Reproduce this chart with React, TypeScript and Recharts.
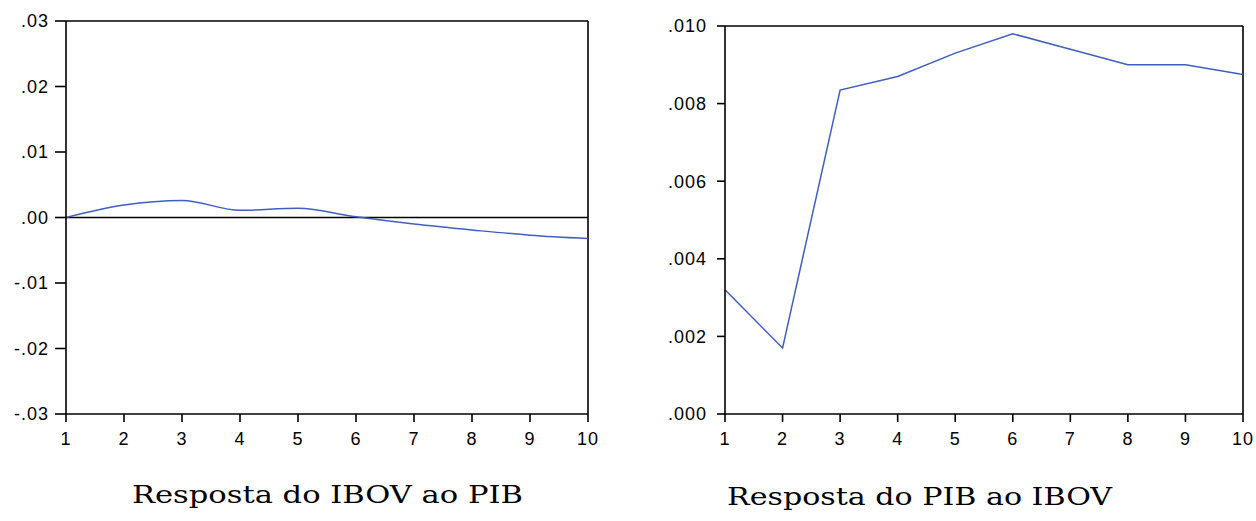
import { LineChart, Line, XAxis, YAxis, ReferenceLine } from "recharts";

const periods = [1, 2, 3, 4, 5, 6, 7, 8, 9, 10];
const ibovToPib = [0, 0.0019, 0.0026, 0.0011, 0.0014, 0.0001, -0.001, -0.0019, -0.0027, -0.0032];
const pibToIbov = [0.0032, 0.0017, 0.00835, 0.0087, 0.0093, 0.0098, 0.0094, 0.009, 0.009, 0.00875];

const leftTicks = [-0.03, -0.02, -0.01, 0, 0.01, 0.02, 0.03];
const rightTicks = [0, 0.002, 0.004, 0.006, 0.008, 0.01];

const leftTitle = "Resposta do IBOV ao PIB";
const rightTitle = "Resposta do PIB ao IBOV";

const leftData = periods.map((p, i) => ({ p, v: ibovToPib[i] }));
const rightData = periods.map((p, i) => ({ p, v: pibToIbov[i] }));

const LINE = "#3f5fbf";
const tickFont = {
  fontSize: 18,
  fill: "#000",
  fontFamily: "'Liberation Sans', Arial, sans-serif",
  letterSpacing: 1,
};
const axisLine = { stroke: "#000", strokeWidth: 1.6 };
const titleStyle = { fontFamily: "'DejaVu Serif', serif", fontSize: 24 };

// eviews style: drop the leading zero
const fmt = (digits: number) => (v: number) => v.toFixed(digits).replace("0.", ".");

export default function App() {
  return (
    <div style={{ position: "absolute", left: 0, top: 0, width: 1256, height: 521, background: "#fff" }}>
      <div style={{ position: "absolute", left: 0, top: 0 }}>
        <LineChart width={620} height={521} data={leftData} margin={{ top: 21, right: 32, left: 0, bottom: 77 }}>
          <XAxis
            dataKey="p"
            type="number"
            domain={[1, 10]}
            ticks={periods}
            height={30}
            tick={tickFont}
            tickSize={8}
            tickMargin={10}
            axisLine={axisLine}
            tickLine={axisLine}
          />
          <YAxis
            type="number"
            domain={[-0.03, 0.03]}
            ticks={leftTicks}
            width={66}
            tick={tickFont}
            tickSize={11}
            tickMargin={6}
            tickFormatter={fmt(2)}
            axisLine={axisLine}
            tickLine={axisLine}
          />
          <ReferenceLine y={0} stroke="#000" strokeWidth={1.6} />
          <ReferenceLine y={0.03} stroke="#000" strokeWidth={1.6} />
          <ReferenceLine x={10} stroke="#000" strokeWidth={1.6} />
          <Line type="monotone" dataKey="v" stroke={LINE} strokeWidth={1.5} dot={false} isAnimationActive={false} />
        </LineChart>
      </div>
      <div style={{ position: "absolute", left: 640, top: 0 }}>
        <LineChart width={616} height={521} data={rightData} margin={{ top: 26, right: 13, left: 0, bottom: 77 }}>
          <XAxis
            dataKey="p"
            type="number"
            domain={[1, 10]}
            ticks={periods}
            height={30}
            tick={tickFont}
            tickSize={8}
            tickMargin={10}
            axisLine={axisLine}
            tickLine={axisLine}
          />
          <YAxis
            type="number"
            domain={[0, 0.01]}
            ticks={rightTicks}
            width={85}
            tick={tickFont}
            tickSize={8}
            tickMargin={10}
            tickFormatter={fmt(3)}
            axisLine={axisLine}
            tickLine={axisLine}
          />
          <ReferenceLine y={0.01} stroke="#000" strokeWidth={1.6} />
          <ReferenceLine x={10} stroke="#000" strokeWidth={1.6} />
          <Line type="linear" dataKey="v" stroke={LINE} strokeWidth={1.5} dot={false} isAnimationActive={false} />
        </LineChart>
      </div>
      <svg width={1256} height={521} style={{ position: "absolute", left: 0, top: 0, pointerEvents: "none" }}>
        <text x={132} y={503} textLength={391} lengthAdjust="spacingAndGlyphs" style={titleStyle}>
          {leftTitle}
        </text>
        <text x={727} y={505} textLength={385} lengthAdjust="spacingAndGlyphs" style={titleStyle}>
          {rightTitle}
        </text>
      </svg>
    </div>
  );
}
